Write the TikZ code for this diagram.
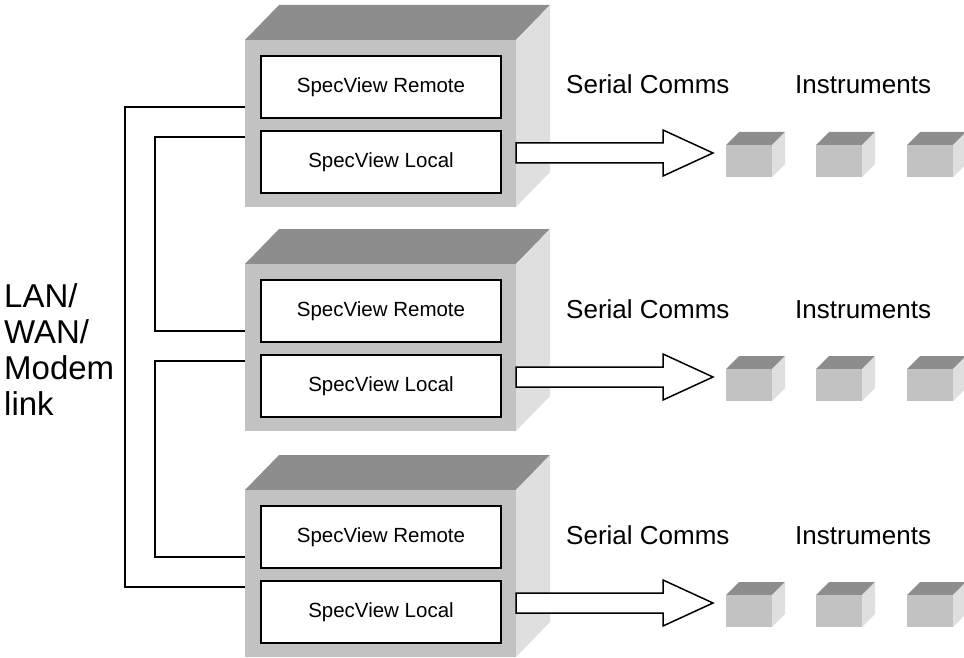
\documentclass[tikz,border=0pt]{standalone}
\usepackage{fontspec}
\setmainfont{Liberation Sans}
\definecolor{facegray}{RGB}{194,194,194}
\definecolor{topgray}{RGB}{141,141,141}
\definecolor{sidegray}{RGB}{223,223,223}
\tikzset{
  specbox/.style={draw,fill=white,line width=1.5pt,minimum width=240pt,minimum height=62pt,inner sep=0pt,font=\fontsize{20.5}{24}\selectfont},
  link/.style={line width=1.5pt},
  bigtext/.style={font=\fontsize{26}{30}\selectfont,anchor=base west,inner sep=0pt}
}
\begin{document}
\begin{tikzpicture}[x=1pt,y=-1pt]
\useasboundingbox (0,0) rectangle (964,658);
% one PC per row: case, two programs, serial link, instruments
\foreach \i/\f in {1/40,2/264,3/490}{
  \fill[topgray] (245,\f)--(279,\f-35)--(550,\f-35)--(516,\f)--cycle;
  \fill[sidegray] (516,\f)--(550,\f-35)--(550,\f+132)--(516,\f+167)--cycle;
  \fill[facegray] (245,\f) rectangle (516,\f+167);
  \node[specbox] (rem\i) at (381,\f+47) {SpecView Remote};
  \node[specbox] (loc\i) at (381,\f+122) {SpecView Local};
  \coordinate (up\i) at (245,\f+67); \coordinate (dn\i) at (245,\f+97);
  \draw[link,fill=white] (516,\f+103)--(663,\f+103)--(663,\f+90)--(713,\f+113)--(663,\f+136)--(663,\f+123)--(516,\f+123)--cycle;
  \node[bigtext] (ser\i) at (566,\f+54) {Serial Comms};
  \node[bigtext] (ins\i) at (795,\f+54) {Instruments};
  \foreach \cx in {726,816,907}{
    \fill[topgray] (\cx,\f+105)--(\cx+13,\f+92)--(\cx+59,\f+92)--(\cx+46,\f+105)--cycle;
    \fill[sidegray] (\cx+46,\f+105)--(\cx+59,\f+92)--(\cx+59,\f+124)--(\cx+46,\f+137)--cycle;
    \fill[facegray] (\cx,\f+105) rectangle (\cx+46,\f+137);
  }
}
\draw[link] (up1) -- ++(-120,0) |- (dn3);
\draw[link] (dn1) -- ++(-90,0) |- (up2);
\draw[link] (dn2) -- ++(-90,0) |- (up3);
\node[font=\fontsize{33}{36}\selectfont,align=left,anchor=north west,inner sep=0pt] (lan) at (4,283) {LAN/\\WAN/\\Modem\\link};
\end{tikzpicture}
\end{document}
